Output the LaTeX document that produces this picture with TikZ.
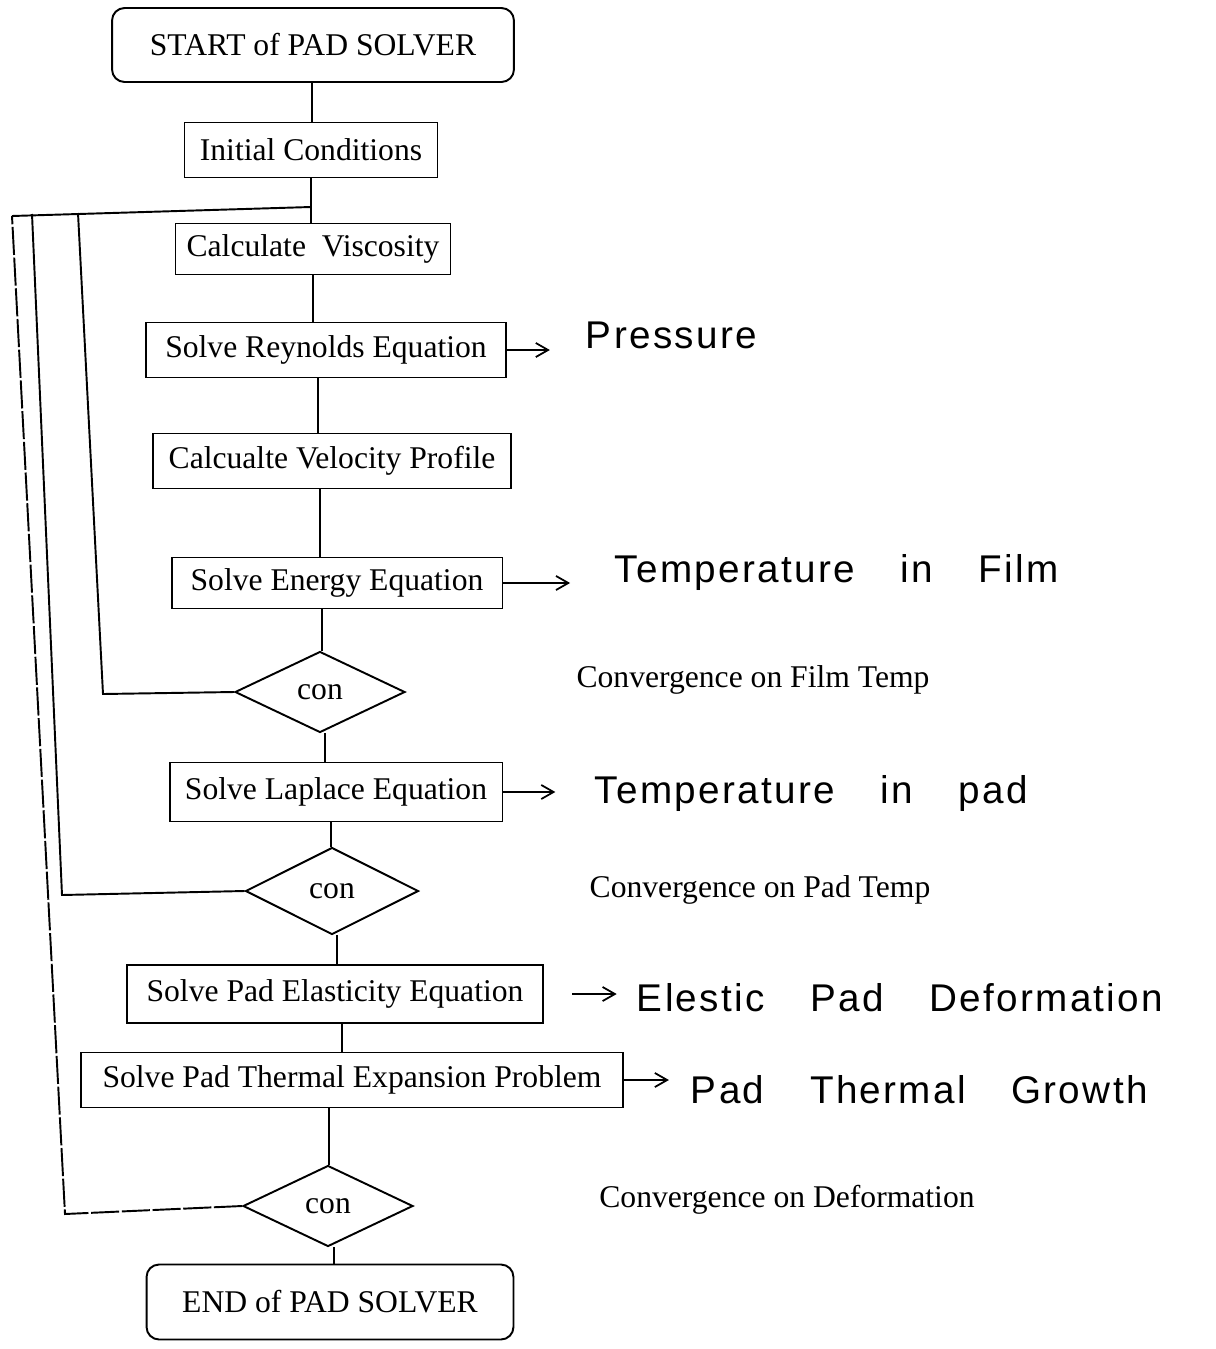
\documentclass[tikz,border=0pt]{standalone}
\usepackage{fontspec}
\setmainfont{Liberation Serif}
\newfontfamily\handfont[LetterSpace=6,WordSpace=3.5]{Liberation Sans}
\usetikzlibrary{shapes.geometric,arrows.meta}

\begin{document}
\begin{tikzpicture}[x=0.02cm,y=-0.02cm,line width=1.1pt,
  font=\fontsize{18}{20}\selectfont,
  stepbox/.style={draw,rectangle,inner sep=3pt,minimum height=1.1cm},
  endbox/.style={draw,rectangle,rounded corners=0.25cm,minimum height=1.48cm},
  conbox/.style={draw,diamond,aspect=2,inner sep=0pt,minimum width=3.4cm,minimum height=1.62cm},
  note/.style={anchor=west,inner sep=0pt,font=\handfont\fontsize{22}{24}\selectfont},
  result/.style={-{Straight Barb[length=7pt,width=8pt]},line width=1pt}]
\useasboundingbox (0,0) rectangle (1215,1349);
\node[endbox,minimum width=8.04cm] (start) at (313,45) {START of PAD SOLVER};
\node[stepbox,minimum width=5.06cm] (init) at (311,150) {Initial Conditions};
\node[stepbox,minimum width=5.5cm,minimum height=1.02cm] (visc) at (313,249) {Calculate\ \ Viscosity};
\node[stepbox,minimum width=7.2cm] (reyn) at (326,350) {Solve Reynolds Equation};
\node[stepbox,minimum width=7.16cm] (velo) at (332,461) {Calcualte Velocity Profile};
\node[stepbox,minimum width=6.62cm,minimum height=1.02cm] (ener) at (337,583) {Solve Energy Equation};
\node[conbox] (conA) at (320,692) {con};
\node[stepbox,minimum width=6.66cm,minimum height=1.18cm] (lapl) at (336,792) {Solve Laplace Equation};
\node[conbox,minimum width=3.46cm,minimum height=1.74cm] (conB) at (332,891) {con};
\node[stepbox,minimum width=8.32cm,minimum height=1.16cm] (elas) at (335,994) {Solve Pad Elasticity Equation};
\node[stepbox,minimum width=10.84cm] (therm) at (352,1080) {Solve Pad Thermal Expansion Problem};
\node[conbox] (conC) at (328,1206) {con};
\node[endbox,minimum width=7.34cm,minimum height=1.5cm] (end) at (330,1302) {END of PAD SOLVER};
\foreach \a/\b/\x in {start/init/312,init/visc/311,visc/reyn/313,reyn/velo/318,velo/ener/320,ener/conA/322,conA/lapl/325,lapl/conB/331,conB/elas/337,elas/therm/342,therm/conC/329,conC/end/334}
	{
	\coordinate (lx) at (\x,0);
	\draw (lx |- \a.south) -- (lx |- \b.north);
	}
\coordinate (join) at (311,207);
\coordinate (topC) at (12,216);
\coordinate (topA) at (78,213);
\coordinate (topB) at (32,214);
\coordinate (cornA) at (103,694);
\coordinate (cornB) at (62,895);
\coordinate (cornC) at (65,1214);
\draw (join) -- (topC);
\draw (conA.west) -- (cornA) -- (topA);
\draw (conB.west) -- (cornB) -- (topB);
\draw[dash pattern=on 16pt off 1.5pt] (conC.west) -- (cornC) -- (topC);
\node (convA) at (753,680) {Convergence on Film Temp};
\node (convB) at (760,890) {Convergence on Pad Temp};
\node (convC) at (787,1200) {Convergence on Deformation};
\node[note] (pres) at (585,335) {Pressure};
\node[note] (tfilm) at (614,572) {Temperature in Film};
\node[note] (tpad) at (594,793) {Temperature in pad};
\node[note] (defo) at (636,998) {Elestic Pad Deformation};
\node[note] (grow) at (690,1090) {Pad Thermal Growth};
\draw[result,shorten >=20pt] (reyn.east) -- (reyn.east -| pres.west);
\draw[result,shorten >=25pt] (ener.east) -- (ener.east -| tfilm.west);
\draw[result,shorten >=22pt] (lapl.east) -- (lapl.east -| tpad.west);
\draw[result,shorten <=16pt,shorten >=11pt] (elas.east) -- (elas.east -| defo.west);
\draw[result,shorten >=12pt] (therm.east) -- (therm.east -| grow.west);
\end{tikzpicture}
\end{document}
